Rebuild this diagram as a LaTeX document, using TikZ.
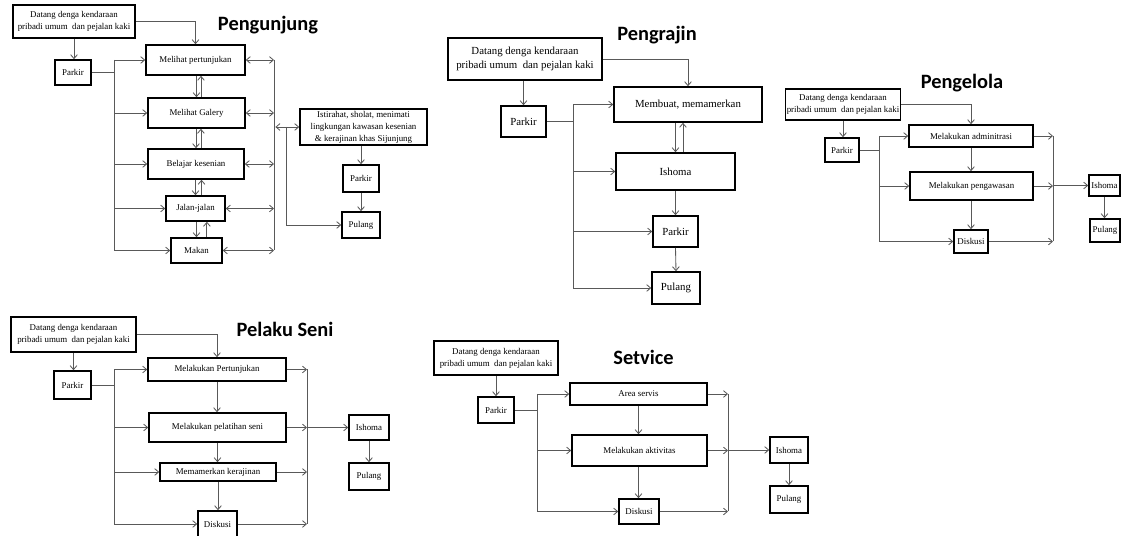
\documentclass[tikz,border=0pt]{standalone}
\usepackage{fontspec}
\setmainfont{Liberation Serif}
\newfontfamily\titlefont{Carlito}
\usetikzlibrary{arrows.meta}
\tikzset{
  box/.style={draw=black, line width=1.1pt, inner sep=1pt, align=center,
    font=\fontsize{6.3}{8.6}\selectfont},
  bigbox/.style={box, font=\fontsize{7.7}{10}\selectfont},
  sz/.style 2 args={minimum width=#1*0.025cm, minimum height=#2*0.025cm},
  ln/.style={draw=black!65, line width=0.6pt},
  ttl/.style={font=\titlefont\bfseries\fontsize{14.5}{16}\selectfont},
  >={Straight Barb[length=2.8pt,width=4.8pt]}
}

\begin{document}
\begin{tikzpicture}[x=0.025cm, y=-0.025cm]
\useasboundingbox (0,0) rectangle (1121,536);

%Pengunjung
\node[ttl] (aTtl) at (268,25) {Pengunjung};
\node[box, sz={122}{33}] (aDat) at (74,21.5) {Datang denga kendaraan\\pribadi umum~ dan pejalan kaki};
\node[box, sz={36}{25}] (aPar) at (73,72.5) {Parkir};
\node[box, sz={99}{30}] (aPer) at (195.5,60) {Melihat pertunjukan};
\node[box, sz={97}{30}] (aGal) at (196.5,113) {Melihat Galery};
\node[box, sz={96}{30}] (aBel) at (196,164) {Belajar kesenian};
\node[box, sz={59}{25}] (aJal) at (195.5,208.5) {Jalan-jalan};
\node[box, sz={51}{25}] (aMak) at (196.5,250.5) {Makan};
\node[box, sz={127}{36}] (aIst) at (363.5,127) {Istirahat, sholat, menimati\\lingkungan kawasan kesenian\\\& kerajinan khas Sijunjung};
\node[box, sz={36}{27}] (aPk2) at (361,178.5) {Parkir};
\node[box, sz={38}{26}] (aPul) at (361,225) {Pulang};
\coordinate (aL) at (114,0);
\coordinate (aR) at (274,0);
\coordinate (aD) at (286,0);
\draw[ln,->] (aDat.south) -- (aDat.south |- aPar.north);
\draw[ln,->] (aDat.east) -| (aPer.north);
\draw[ln,->] (aGal.north |- aPer.south) -- (aGal.north);
\draw[ln,->] ([xshift=3.2pt]aGal.north) -- ([xshift=3.2pt]aGal.north |- aPer.south);
\draw[ln,->] (aBel.north |- aGal.south) -- (aBel.north);
\draw[ln,->] ([xshift=3.5pt]aBel.north) -- ([xshift=3.5pt]aBel.north |- aGal.south);
\draw[ln,->] (aJal.north |- aBel.south) -- (aJal.north);
\draw[ln,->] ([xshift=4.3pt]aJal.north) -- ([xshift=4.3pt]aJal.north |- aBel.south);
\draw[ln,->] (aMak.north |- aJal.south) -- (aMak.north);
\draw[ln,->] ([xshift=7.4pt]aMak.north) -- ([xshift=7.4pt]aMak.north |- aJal.south);
\draw[ln] (aPar.east) -- (aPar.east -| aL);
\draw[ln] (aPer.west -| aL) -- (aMak.west -| aL);
\foreach \n in {aPer,aGal,aBel,aJal,aMak}{
  \draw[ln,->] (\n.west -| aL) -- (\n.west);
  \draw[ln,<->] (\n.east) -- (\n.east -| aR);
}
\draw[ln] (aPer.east -| aR) -- (aMak.east -| aR);
\draw[ln,<->] ([xshift=1pt]aIst.west -| aR) -- (aIst.west);
\draw[ln,->] (aIst.west -| aD) |- (aPul.west);
\draw[ln,->] (aPk2.north |- aIst.south) -- (aPk2.north);
\draw[ln,->] (aPk2.south) -- (aPul.north);

%Pengrajin
\node[ttl] (bTtl) at (657,35) {Pengrajin};
\node[bigbox, sz={154}{42}] (bDat) at (525,59) {Datang denga kendaraan\\pribadi umum~ dan pejalan kaki};
\node[bigbox, sz={45}{31}] (bPar) at (523.5,121.5) {Parkir};
\node[bigbox, sz={148}{35}] (bMem) at (688,104.5) {Membuat, memamerkan};
\node[bigbox, sz={119}{37}] (bIsh) at (675.5,171.5) {Ishoma};
\node[bigbox, sz={45}{31}] (bPk2) at (675.5,231.5) {Parkir};
\node[bigbox, sz={48}{32}] (bPul) at (676,288) {Pulang};
\coordinate (bL) at (573,0);
\draw[ln,->] (bPar.north |- bDat.south) -- (bPar.north);
\draw[ln,->] (bDat.east) -| (bMem.north);
\draw[ln,->] (bIsh.north |- bMem.south) -- (bIsh.north);
\draw[ln,->] ([xshift=5.3pt]bIsh.north) -- ([xshift=5.3pt]bIsh.north |- bMem.south);
\draw[ln,->] (bIsh.south) -- (bPk2.north);
\draw[ln,->] (bPk2.south) -- (bPul.north);
\draw[ln] (bPar.east) -- (bPar.east -| bL);
\draw[ln] (bMem.west -| bL) -- (bPul.west -| bL);
\foreach \n in {bMem,bIsh,bPk2,bPul}
  \draw[ln,->] (\n.west -| bL) -- (\n.west);

%Pengelola
\node[ttl] (cTtl) at (962,83) {Pengelola};
\node[box, sz={112}{31}] (cDat) at (843,104.5) {Datang denga kendaraan\\pribadi umum~ dan pejalan kaki};
\node[box, sz={34}{24}] (cPar) at (842,150) {Parkir};
\node[box, sz={124}{22}] (cAdm) at (971,136) {Melakukan adminitrasi};
\node[box, sz={123}{28}] (cPen) at (971.5,186) {Melakukan pengawasan};
\node[box, sz={34}{23}] (cDis) at (971,241.5) {Diskusi};
\node[box, sz={31}{21}] (cIsh) at (1104.5,185.5) {Ishoma};
\node[box, sz={30}{23}] (cPul) at (1105,230.5) {Pulang};
\coordinate (cL) at (879,0);
\coordinate (cR) at (1053,0);
\draw[ln,->] (cDat.south) -- (cDat.south |- cPar.north);
\draw[ln,->] (cDat.east) -| (cAdm.north);
\draw[ln,->] (cAdm.south) -- (cAdm.south |- cPen.north);
\draw[ln,->] (cDis.north |- cPen.south) -- (cDis.north);
\draw[ln] (cPar.east) -- (cPar.east -| cL);
\draw[ln] (cAdm.west -| cL) -- (cDis.west -| cL);
\draw[ln] (cAdm.east -| cR) -- (cDis.east -| cR);
\foreach \n in {cAdm,cPen,cDis}{
  \draw[ln,->] (\n.west -| cL) -- (\n.west);
  \draw[ln,->] (\n.east) -- (\n.east -| cR);
}
\draw[ln,->] (cIsh.west -| cR) -- (cIsh.west);
\draw[ln,->] (cIsh.south) -- (cIsh.south |- cPul.north);

%Pelaku Seni
\node[ttl] (dTtl) at (285,329) {Pelaku Seni};
\node[box, sz={125}{35}] (dDat) at (73.5,334.5) {Datang denga kendaraan\\pribadi umum~ dan pejalan kaki};
\node[box, sz={37}{28}] (dPar) at (72.5,385) {Parkir};
\node[box, sz={138}{23}] (dPer) at (217,369.5) {Melakukan Pertunjukan};
\node[box, sz={137}{29}] (dPel) at (217.5,427.5) {Melakukan pelatihan seni};
\node[box, sz={116}{18}] (dMem) at (218,472) {Memamerkan kerajinan};
\node[box, sz={39}{26}] (dDis) at (217.5,524) {Diskusi};
\node[box, sz={40}{25}] (dIsh) at (369,427.5) {Ishoma};
\node[box, sz={40}{27}] (dPul) at (369,476.5) {Pulang};
\coordinate (dL) at (114,0);
\coordinate (dR) at (307,0);
\draw[ln,->] (dDat.south) -- (dDat.south |- dPar.north);
\draw[ln,->] (dDat.east) -| (dPer.north);
\draw[ln,->] (dPer.south) -- (dPer.south |- dPel.north);
\draw[ln,->] (dPel.south) -- (dPel.south |- dMem.north);
\draw[ln,->] (dMem.south) -- (dMem.south |- dDis.north);
\draw[ln] (dPar.east) -- (dPar.east -| dL);
\draw[ln] (dPer.west -| dL) -- (dDis.west -| dL);
\draw[ln] (dPer.east -| dR) -- (dDis.east -| dR);
\foreach \n in {dPer,dPel,dMem,dDis}{
  \draw[ln,->] (\n.west -| dL) -- (\n.west);
  \draw[ln,->] (\n.east) -- (\n.east -| dR);
}
\draw[ln,->] (dIsh.west -| dR) -- (dIsh.west);
\draw[ln,->] (dIsh.south) -- (dPul.north);

%Setvice
\node[ttl] (eTtl) at (643.5,357) {Setvice};
\node[box, sz={124}{34}] (eDat) at (496,358) {Datang denga kendaraan\\pribadi umum~ dan pejalan kaki};
\node[box, sz={36}{26}] (ePar) at (496,410) {Parkir};
\node[box, sz={137}{22}] (eAre) at (638.5,394) {Area servis};
\node[box, sz={135}{31}] (eAkt) at (639.5,450.5) {Melakukan aktivitas};
\node[box, sz={40}{25}] (eDis) at (639,511.5) {Diskusi};
\node[box, sz={38}{26}] (eIsh) at (789,450) {Ishoma};
\node[box, sz={38}{27}] (ePul) at (789,499.5) {Pulang};
\coordinate (eL) at (537,0);
\coordinate (eR) at (728,0);
\draw[ln,->] (eDat.south) -- (ePar.north);
\draw[ln,->] (eAre.south) -- (eAre.south |- eAkt.north);
\draw[ln,->] (eAre.south |- eAkt.south) -- (eAre.south |- eDis.north);
\draw[ln] (ePar.east) -- (ePar.east -| eL);
\draw[ln] (eAre.west -| eL) -- (eDis.west -| eL);
\draw[ln] (eAre.east -| eR) -- (eDis.east -| eR);
\foreach \n in {eAre,eAkt,eDis}{
  \draw[ln,->] (\n.west -| eL) -- (\n.west);
  \draw[ln,->] (\n.east) -- (\n.east -| eR);
}
\draw[ln,->] (eIsh.west -| eR) -- (eIsh.west);
\draw[ln,->] (eIsh.south) -- (ePul.north);
\end{tikzpicture}
\end{document}
